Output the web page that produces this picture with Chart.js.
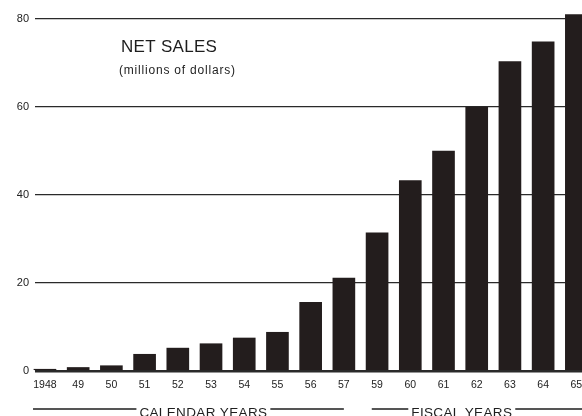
<!DOCTYPE html>
<html>
<head>
<meta charset="utf-8">
<script src="https://cdn.jsdelivr.net/npm/chart.js@4/dist/chart.umd.min.js"></script>
<style>
  html, body { margin: 0; padding: 0; background: #fff; overflow: hidden; }
  #wrap { width: 582px; height: 416px; }
</style>
</head>
<body>
<div id="wrap"><canvas id="c" width="582" height="416"></canvas></div>
<script>
// ---- data ----
const years = ['1948','49','50','51','52','53','54','55','56','57','59','60','61','62','63','64','65'];
const netSales = [0.4, 0.8, 1.2, 3.8, 5.2, 6.2, 7.5, 8.8, 15.6, 21.1, 31.4, 43.3, 50.0, 60.0, 70.3, 74.8, 81.0];
const yTicks = [0, 20, 40, 60, 80];
const titleText = 'NET SALES';
const subtitleText = '(millions of dollars)';
const groupLabels = ['CALENDAR YEARS', 'FISCAL YEARS'];
const groupFirst = [0, 10];
const groupLast = [9, 16];

const FONT = '"Liberation Sans", Arial, Helvetica, sans-serif';
const INK = '#231d1d';

const annotations = {
  id: 'annotations',
  afterDraw(chart) {
    const ctx = chart.ctx;
    const xs = chart.scales.x;
    const area = chart.chartArea;
    ctx.save();
    ctx.fillStyle = '#1e1e1e';
    ctx.textBaseline = 'alphabetic';
    ctx.textAlign = 'left';
    // title
    ctx.font = '17px ' + FONT;
    ctx.letterSpacing = '0.3px';
    ctx.fillText(titleText, area.left + 86, 52);
    ctx.font = '12px ' + FONT;
    ctx.letterSpacing = '0.8px';
    ctx.fillText(subtitleText, area.left + 84, 74);
    // group brackets
    ctx.font = '13.5px ' + FONT;
    ctx.letterSpacing = '0.35px';
    ctx.strokeStyle = '#1e1e1e';
    ctx.lineWidth = 1.5;
    const lineY = 409;
    for (let g = 0; g < groupLabels.length; g++) {
      const start = g === 0 ? xs.getPixelForValue(groupFirst[g] - 0.36) : xs.getPixelForValue(groupFirst[g] - 0.16);
      const end = g === 0 ? xs.getPixelForValue(groupLast[g]) : area.right;
      const center = g === 0 ? xs.getPixelForValue(4.77) : xs.getPixelForValue(12.55);
      const w = ctx.measureText(groupLabels[g]).width;
      ctx.beginPath();
      ctx.moveTo(start, lineY);
      ctx.lineTo(center - w / 2 - 3, lineY);
      ctx.moveTo(center + w / 2 + 3, lineY);
      ctx.lineTo(end, lineY);
      ctx.stroke();
      ctx.fillText(groupLabels[g], center - w / 2, 417);
    }
    ctx.restore();
  }
};

new Chart(document.getElementById('c'), {
  type: 'bar',
  data: {
    datasets: [{
      data: years.map((_, i) => ({ x: i, y: netSales[i] })),
      backgroundColor: INK,
      borderWidth: 0,
      barThickness: 22,
      clip: { left: 2, top: 20, right: 0, bottom: 0 }
    }]
  },
  options: {
    responsive: false,
    devicePixelRatio: 1,
    animation: false,
    layout: { padding: { top: 19, left: 0, right: 0, bottom: 0 } },
    plugins: { legend: { display: false }, tooltip: { enabled: false }, title: { display: false } },
    scales: {
      x: {
        type: 'linear',
        offset: false,
        min: -0.3,
        max: 16.17,
        grid: { display: false, offset: false, drawTicks: false },
        border: { display: false },
        afterFit(scale) {
          scale.height = 45;
          scale.paddingLeft = 0;
          scale.paddingRight = 0;
        },
        ticks: {
          stepSize: 1,
          includeBounds: false,
          autoSkip: false,
          maxRotation: 0,
          padding: 8,
          color: '#222',
          font: { family: FONT, size: 10.5 },
          callback: (v) => (Number.isInteger(v) && years[v] !== undefined) ? years[v] : ''
        }
      },
      y: {
        min: 0,
        max: 80,
        afterFit(scale) { scale.width = 35; },
        afterBuildTicks(scale) { scale.ticks = yTicks.map(v => ({ value: v })); },
        border: { display: false },
        grid: {
          drawTicks: false,
          color: '#2a2a2a',
          lineWidth: (c) => (c.tick && c.tick.value === 0) ? 2.5 : 1.3
        },
        ticks: {
          padding: 6,
          color: '#222',
          font: { family: FONT, size: 11 }
        }
      }
    }
  },
  plugins: [annotations]
});
</script>
</body>
</html>
